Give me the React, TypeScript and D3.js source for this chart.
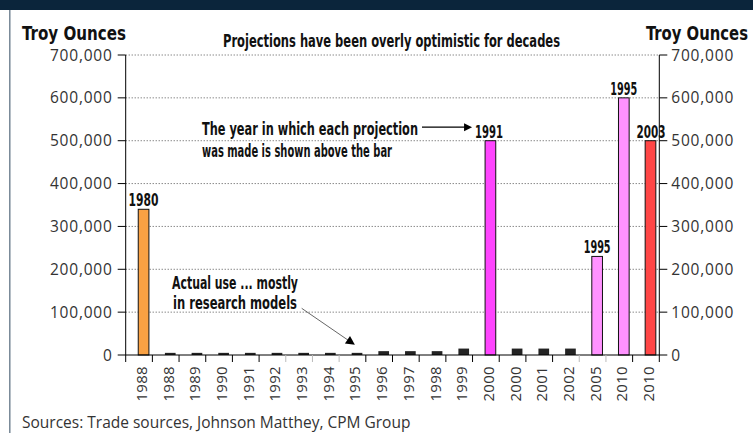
import React from "react"
import * as d3 from "d3"

// bars in the order they appear, left to right
const categories = ["1988", "1988", "1989", "1990", "1991", "1992", "1993", "1994", "1995", "1996", "1997", "1998", "1999", "2000", "2000", "2001", "2002", "2005", "2010", "2010"]
const ounces = [340000, 5000, 5000, 5000, 5000, 5000, 5000, 5000, 5000, 9000, 9000, 9000, 15000, 500000, 15000, 15000, 15000, 230000, 600000, 500000]
// year each projection was made ("" = actual use)
const madeIn = ["1980", "", "", "", "", "", "", "", "", "", "", "", "", "1991", "", "", "", "1995", "1995", "2003"]
const yTicks = [0, 100000, 200000, 300000, 400000, 500000, 600000, 700000]
// tick marks drawn in light grey on the original
const greyTicks = [6, 7, 8, 17, 18]

const colorByYear: Record<string, string> = {
  "": "#232323",
  "1980": "#f9a143",
  "1991": "#ff45ff",
  "1995": "#ff92ff",
  "2003": "#ff4646",
}

const W = 753
const H = 433
const bold = "'Liberation Sans Narrow', 'DejaVu Sans Condensed', 'Arial Narrow', sans-serif"
const plain = "'Open Sans', 'DejaVu Sans', sans-serif"

// condensed bold text squeezed to the width it has on the original
const Tight = (p: { x: number; y: number; w: number; size?: number; anchor?: string; children: string }) => (
  <text x={p.x} y={p.y} textAnchor={p.anchor || "start"} textLength={p.w} lengthAdjust="spacingAndGlyphs"
    fontFamily={bold} fontWeight="bold" fontSize={p.size || 17.5} fill="#111">{p.children}</text>
)

export default function App() {
  const left = 125.7
  const right = 659.3
  const x = d3.scaleBand<number>().domain(d3.range(categories.length)).range([left, right]).padding(0)
  const y = d3.scaleLinear().domain([0, 700000]).range([355, 55])
  const bw = x.bandwidth()
  const fmt = d3.format(",")
  const base = y(0)

  const barX = (i: number) => (x(i) as number) + bw * 0.47
  const barW = bw * 0.4

  // arrow annotations, anchored to bars
  const a1y = y(500000) - 13.5
  const a1end = barX(13) - 13
  const a2tipX = barX(8) + barW * 0.3
  const a2tipY = y(ounces[8]) - 8
  const a2fromX = 301.7
  const a2fromY = 308.3
  const ang = Math.atan2(a2tipY - a2fromY, a2tipX - a2fromX)
  const head = (tx: number, ty: number, a: number, len: number, hw: number) => {
    const bx = tx - len * Math.cos(a)
    const by = ty - len * Math.sin(a)
    const px = -Math.sin(a) * hw
    const py = Math.cos(a) * hw
    return `M${tx},${ty}L${bx + px},${by + py}L${bx - px},${by - py}Z`
  }
  const labelW: Record<string, number> = { "1980": 30, "1991": 28, "1995": 27, "2003": 29 }
  const labelNudge: Record<number, number> = { 13: -1.5, 19: 0.5 }

  return (
    <svg width={W} height={H} style={{ position: "absolute", left: 0, top: 0, background: "#fff" }}>
      <rect x={0} y={0} width={W} height={10} fill="#0b253b" />
      <line x1={9.8} x2={9.8} y1={10} y2={H} stroke="#6d7f8e" strokeWidth={1.4} />

      <Tight x={22} y={40} w={104} size={19.5}>Troy Ounces</Tight>
      <Tight x={646} y={40} w={102} size={19.5}>Troy Ounces</Tight>
      <Tight x={223} y={47} w={337} size={17}>Projections have been overly optimistic for decades</Tight>

      {/* dotted gridlines */}
      {yTicks.filter((t) => t > 0).map((t) => (
        <line key={t} x1={left} x2={right} y1={y(t)} y2={y(t)} stroke="#555" strokeWidth={1} strokeDasharray="1,2" />
      ))}

      {/* y axes */}
      <line x1={left} x2={left} y1={y(700000)} y2={base} stroke="#000" />
      <line x1={right} x2={right} y1={y(700000)} y2={base} stroke="#000" />
      {yTicks.map((t) => (
        <g key={t}>
          <line x1={left - 8} x2={left} y1={y(t)} y2={y(t)} stroke="#000" />
          <line x1={right} x2={right + 8} y1={y(t)} y2={y(t)} stroke="#000" />
          <text x={left - 13} y={y(t)} dy="0.36em" textAnchor="end" fontFamily={plain} fontSize={15.5} letterSpacing={0.8} fill="#333">{fmt(t)}</text>
          <text x={right + 12} y={y(t)} dy="0.36em" fontFamily={plain} fontSize={15.5} letterSpacing={0.8} fill="#333">{fmt(t)}</text>
        </g>
      ))}

      {/* bars */}
      {ounces.map((v, i) => (
        <rect key={i} x={barX(i)} y={y(v)} width={barW} height={base - y(v)}
          fill={colorByYear[madeIn[i]]} stroke={madeIn[i] ? "#111" : "none"} strokeWidth={1} />
      ))}
      {madeIn.map((m, i) => m && (
        <Tight key={i} x={barX(i) + barW / 2 + (labelNudge[i] || 0)} y={y(ounces[i]) - 3} w={labelW[m]} anchor="middle" size={17}>{m}</Tight>
      ))}

      {/* x axis */}
      <line x1={left} x2={right} y1={base} y2={base} stroke="#000" />
      {d3.range(categories.length + 1).map((k) => {
        const px = k < categories.length ? (x(k) as number) : right
        return <line key={k} x1={px} x2={px} y1={base} y2={base + 7} stroke={greyTicks.includes(k) ? "#bbb" : "#000"} />
      })}
      {categories.map((c, i) => (
        <text key={i} transform={`translate(${(x(i) as number) + bw / 2 + 8},${base + 11}) rotate(-90)`} textAnchor="end"
          fontFamily={plain} fontSize={15} letterSpacing={0.3} fill="#333">{c}</text>
      ))}

      {/* annotations */}
      <Tight x={202} y={135} w={216}>The year in which each projection</Tight>
      <Tight x={202} y={157} w={190}>was made is shown above the bar</Tight>
      <line x1={422} x2={a1end - 6} y1={a1y} y2={a1y} stroke="#000" strokeWidth={1.2} />
      <path d={head(a1end, a1y, 0, 8, 4)} fill="#000" />

      <Tight x={172} y={289} w={126}>Actual use ... mostly</Tight>
      <Tight x={173} y={309} w={124}>in research models</Tight>
      <line x1={a2fromX} y1={a2fromY} x2={a2tipX - 8 * Math.cos(ang)} y2={a2tipY - 8 * Math.sin(ang)} stroke="#555" strokeWidth={0.9} />
      <path d={head(a2tipX, a2tipY, ang, 9, 4.5)} fill="#000" />

      <text x={22} y={428} fontFamily={plain} fontSize={15.5} fill="#333">Sources: Trade sources, Johnson Matthey, CPM Group</text>
    </svg>
  )
}
